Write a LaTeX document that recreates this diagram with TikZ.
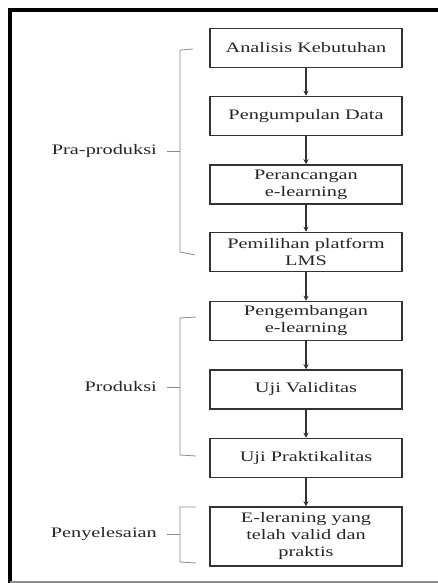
\documentclass[tikz,border=0pt]{standalone}
\usepackage{fontspec}
\setmainfont{Liberation Serif}[FakeStretch=1.4]
\usetikzlibrary{arrows.meta}

\begin{document}
\begin{tikzpicture}[
    x=1pt,
    y=-1pt,
    stage/.style={
      draw=black!80,
      line width=1.5pt,
      minimum width=192pt,
      minimum height=39pt,
      inner sep=2pt,
      align=center,
      font=\fontsize{14.5}{17}\selectfont,
      text=black!85
    },
    arrow/.style={
      -{Stealth[length=5pt,width=5pt]},
      line width=1.6pt,
      black!80
    },
    bracket/.style={
      draw=black!45,
      line width=0.8pt
    },
    phase/.style={
      anchor=east,
      inner sep=0pt,
      font=\fontsize{14.5}{17}\selectfont,
      text=black!85
    }
  ]
  \useasboundingbox (0,0) rectangle (438,583);

  % Outer frame
  \draw[line width=4pt] (438,10) -- (10,10) -- (10,583);
  \draw[black!45, line width=2pt] (10,582) -- (438,582);

  % Stages
  \node[stage] (analisis) at (306,48) {Analisis Kebutuhan};
  \node[stage] (data) at (306,116) {Pengumpulan Data};
  \node[stage] (rancang) at (306,184.5) {Perancangan\\e-learning};
  \node[stage] (platform) at (306,252) {Pemilihan platform\\LMS};
  \node[stage] (kembang) at (306,321) {Pengembangan\\e-learning};
  \node[stage] (validitas) at (306,389.5) {Uji Validitas};
  \node[stage] (praktikal) at (306,458) {Uji Praktikalitas};
  \node[stage, minimum height=59pt] (hasil) at (306,536.5) {E-leraning yang\\telah valid dan\\praktis};

  % Arrows between stages
  \foreach \a/\b in {analisis/data, data/rancang, rancang/platform, platform/kembang,
                     kembang/validitas, validitas/praktikal, praktikal/hasil} {
    \draw[arrow] (\a.south) -- (\b.north);
  }

  % Pra-produksi
  \draw[bracket] (193,49) -- (180,50) -- (180,252) -- (195,255);
  \node[phase] (pra) at (157,151) {Pra-produksi};
  \draw[bracket] ([xshift=10pt]pra.east) -- (180,151);

  % Produksi
  \draw[bracket] (196,317) -- (180,318) -- (180,455) -- (196,456);
  \node[phase] (produksi) at (157,387) {Produksi};
  \draw[bracket] ([xshift=10pt]produksi.east) -- (180,387);

  % Penyelesaian
  \draw[bracket] (196,507) -- (180,507) -- (180,562) -- (196,563);
  \node[phase] (selesai) at (157,534) {Penyelesaian};
  \draw[bracket] ([xshift=10pt]selesai.east) -- (180,534);

\end{tikzpicture}
\end{document}
